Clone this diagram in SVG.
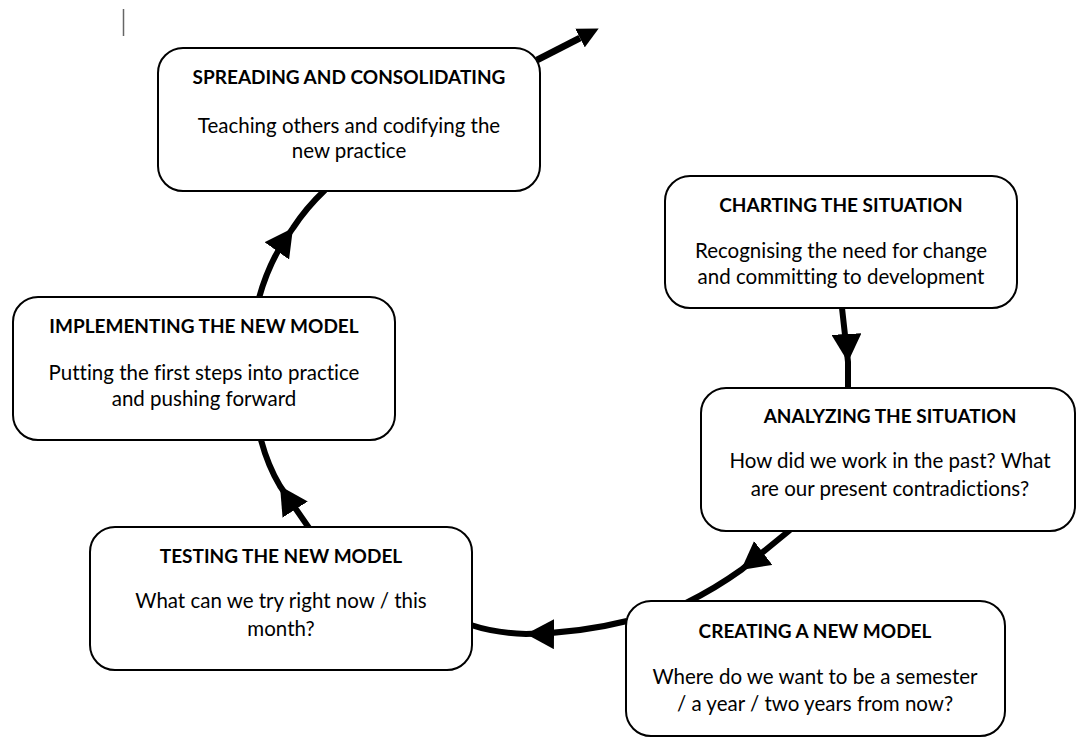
<svg xmlns="http://www.w3.org/2000/svg" width="1078" height="738" viewBox="0 0 1078 738">
  <style>
    .box { fill: #ffffff; stroke: #000000; stroke-width: 2; }
    .title { font-family: Lato, "Liberation Sans", sans-serif; font-weight: bold; font-size: 19px; fill: #000000; text-anchor: middle; font-variant-ligatures: none; }
    .body { font-family: Lato, "Liberation Sans", sans-serif; font-size: 20.5px; fill: #000000; text-anchor: middle; font-variant-ligatures: none; }
    .flow { fill: none; stroke: #000000; stroke-width: 6; marker-mid: url(#midArrow); }
    .exit { fill: none; stroke: #000000; stroke-width: 7; marker-end: url(#endArrow); }
  </style>
  <defs>
    <marker id="midArrow" viewBox="0 0 28 30" refX="28" refY="15" markerWidth="28" markerHeight="30" markerUnits="userSpaceOnUse" orient="auto">
      <path d="M0,0 L28,15 L0,30 z" fill="#000000"/>
    </marker>
    <marker id="endArrow" viewBox="0 0 21 21" refX="0" refY="10.5" markerWidth="21" markerHeight="21" markerUnits="userSpaceOnUse" orient="auto">
      <path d="M0,0 L21,10.5 L0,21 z" fill="#000000"/>
    </marker>
  </defs>

  <rect width="1078" height="738" fill="#ffffff"/>

  <!-- text cursor mark -->
  <line x1="123.5" y1="9" x2="123.5" y2="36" stroke="#666666" stroke-width="1.5"/>

  <!-- cycle connectors -->
  <g id="connectors">
    <path class="exit" d="M537,60 L580,38"/>
    <path class="flow" d="M842,308 L848,362 L848,389"/>
    <path class="flow" d="M790,530 L741,570 Q716,588 686,603"/>
    <path class="flow" d="M627,621 Q580,633 526,634 Q495,633 471,625"/>
    <path class="flow" d="M309,528 L280,486 Q268,466 261,440"/>
    <path class="flow" d="M259,298 Q270,258 293,228 Q306,208 325,190"/>
  </g>

  <g id="spreading">
    <rect class="box" x="158" y="48" width="382" height="143" rx="25"/>
    <text class="title" x="349" y="84">SPREADING AND CONSOLIDATING</text>
    <text class="body" x="349" y="133">Teaching others and codifying the</text>
    <text class="body" x="349" y="158">new practice</text>
  </g>

  <g id="charting">
    <rect class="box" x="665" y="176" width="352" height="132" rx="25"/>
    <text class="title" x="841" y="212">CHARTING THE SITUATION</text>
    <text class="body" x="841" y="258">Recognising the need for change</text>
    <text class="body" x="841" y="284">and committing to development</text>
  </g>

  <g id="implementing">
    <rect class="box" x="13" y="297" width="382" height="143" rx="25"/>
    <text class="title" x="204" y="333">IMPLEMENTING THE NEW MODEL</text>
    <text class="body" x="204" y="380">Putting the first steps into practice</text>
    <text class="body" x="204" y="406">and pushing forward</text>
  </g>

  <g id="analyzing">
    <rect class="box" x="701" y="388" width="374" height="143" rx="25"/>
    <text class="title" x="890" y="423">ANALYZING THE SITUATION</text>
    <text class="body" x="890" y="468">How did we work in the past? What</text>
    <text class="body" x="890" y="496">are our present contradictions?</text>
  </g>

  <g id="testing">
    <rect class="box" x="90" y="527" width="382" height="143" rx="25"/>
    <text class="title" x="281" y="563">TESTING THE NEW MODEL</text>
    <text class="body" x="281" y="608">What can we try right now / this</text>
    <text class="body" x="281" y="636">month?</text>
  </g>

  <g id="creating">
    <rect class="box" x="626" y="601" width="379" height="135" rx="25"/>
    <text class="title" x="815" y="638">CREATING A NEW MODEL</text>
    <text class="body" x="815" y="684">Where do we want to be a semester</text>
    <text class="body" x="815" y="711">/ a year / two years from now?</text>
  </g>
</svg>
